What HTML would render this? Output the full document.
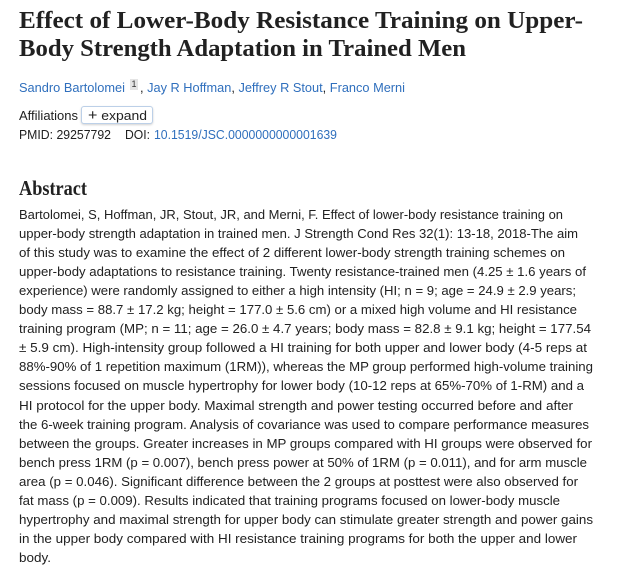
<!DOCTYPE html>
<html>
<head>
<meta charset="utf-8">
<style>
  html, body { margin:0; padding:0; background:#fff; }
  body { width:628px; height:574px; position:relative; overflow:hidden; }
  .a { position:absolute; white-space:nowrap; display:inline-block; transform-origin:0 0; }
  .sans { font-family:"Liberation Sans", Arial, sans-serif; font-size:13px; line-height:13px; color:#212121; }
  .serif { font-family:"Liberation Serif", "Times New Roman", serif; font-weight:bold; color:#212121; }
  .t { font-size:24px; line-height:24px; }
  .h { font-size:21px; line-height:21px; }
  .blue { color:#2f6fbd; }
  .sup { position:absolute; left:130px; top:79px; width:8px; height:11px; background:#e4e4e4;
         font-family:"Liberation Sans", Arial, sans-serif; font-size:9px; line-height:10px; text-align:center; color:#333; }
  .btn { position:absolute; left:81px; top:106px; width:70px; height:16px; border:1px solid #bcd0e8; border-radius:3px;
         box-shadow:0 1px 2px rgba(0,0,0,0.18); background:#fff; }
</style>
</head>
<body>
<div class="a serif t" id="t1" style="left:19px; top:9px;">Effect of Lower-Body Resistance Training on Upper-</div>
<div class="a serif t" id="t2" style="left:19px; top:37px;">Body Strength Adaptation in Trained Men</div>

<div class="a sans blue" id="au1" style="left:19px; top:81px;">Sandro Bartolomei</div>
<div class="sup">1</div>
<div class="a sans" id="au2" style="left:140px; top:81px;">, <span class="blue">Jay R Hoffman</span>, <span class="blue">Jeffrey R Stout</span>, <span class="blue">Franco Merni</span></div>

<div class="a sans" id="af" style="left:19px; top:109px;">Affiliations</div>
<div class="btn"></div>
<div class="a sans" id="ex" style="left:88px; top:109px;"><span style="font-size:15px;">+</span> expand</div>

<div class="a sans" id="pm" style="left:19px; top:128px;">PMID: 29257792</div>
<div class="a sans" id="doi" style="left:125px; top:128px;">DOI:</div>
<div class="a sans blue" id="doiv" style="left:154px; top:128px;">10.1519/JSC.0000000000001639</div>

<div class="a serif h" id="abs" style="left:19px; top:178.4px;">Abstract</div>

<div id="body"></div>

<script>
(function(){
  var lines = [
    ["Bartolomei, S, Hoffman, JR, Stout, JR, and Merni, F. Effect of lower-body resistance training on",544],
    ["upper-body strength adaptation in trained men. J Strength Cond Res 32(1): 13-18, 2018-The aim",559],
    ["of this study was to examine the effect of 2 different lower-body strength training schemes on",546],
    ["upper-body adaptations to resistance training. Twenty resistance-trained men (4.25 \u00b1 1.6 years of",567],
    ["experience) were randomly assigned to either a high intensity (HI; n = 9; age = 24.9 \u00b1 2.9 years;",557],
    ["body mass = 88.7 \u00b1 17.2 kg; height = 177.0 \u00b1 5.6 cm) or a mixed high volume and HI resistance",558],
    ["training program (MP; n = 11; age = 26.0 \u00b1 4.7 years; body mass = 82.8 \u00b1 9.1 kg; height = 177.54",572],
    ["\u00b1 5.9 cm). High-intensity group followed a HI training for both upper and lower body (4-5 reps at",568],
    ["88%-90% of 1 repetition maximum (1RM)), whereas the MP group performed high-volume training",574],
    ["sessions focused on muscle hypertrophy for lower body (10-12 reps at 65%-70% of 1-RM) and a",565],
    ["HI protocol for the upper body. Maximal strength and power testing occurred before and after",554],
    ["the 6-week training program. Analysis of covariance was used to compare performance measures",570],
    ["between the groups. Greater increases in MP groups compared with HI groups were observed for",573],
    ["bench press 1RM (p = 0.007), bench press power at 50% of 1RM (p = 0.011), and for arm muscle",568],
    ["area (p = 0.046). Significant difference between the 2 groups at posttest were also observed for",559],
    ["fat mass (p = 0.009). Results indicated that training programs focused on lower-body muscle",541],
    ["hypertrophy and maximal strength for upper body can stimulate greater strength and power gains",574],
    ["in the upper body compared with HI resistance training programs for both the upper and lower",558],
    ["body.",32]
  ];
  var host = document.getElementById('body');
  var els = [];
  for (var i=0;i<lines.length;i++){
    var d = document.createElement('div');
    d.className = 'a sans';
    d.style.left = '19px';
    d.style.top = (208 + i*19.05) + 'px';
    d.textContent = lines[i][0];
    host.appendChild(d);
    els.push([d, lines[i][1]]);
  }
  function fit(el, w){
    var cw = el.getBoundingClientRect().width;
    if (cw > 0) el.style.transform = 'scaleX(' + (w/cw) + ')';
  }
  for (var j=0;j<els.length;j++) fit(els[j][0], els[j][1]);
  fit(document.getElementById('t1'), 564);
  fit(document.getElementById('t2'), 447);
  fit(document.getElementById('abs'), 68);
  fit(document.getElementById('au1'), 106);
  fit(document.getElementById('au2'), 265);
  fit(document.getElementById('af'), 59);
  fit(document.getElementById('ex'), 59);
  fit(document.getElementById('pm'), 92);
  fit(document.getElementById('doi'), 25);
  fit(document.getElementById('doiv'), 183);
})();
</script>
</body>
</html>
